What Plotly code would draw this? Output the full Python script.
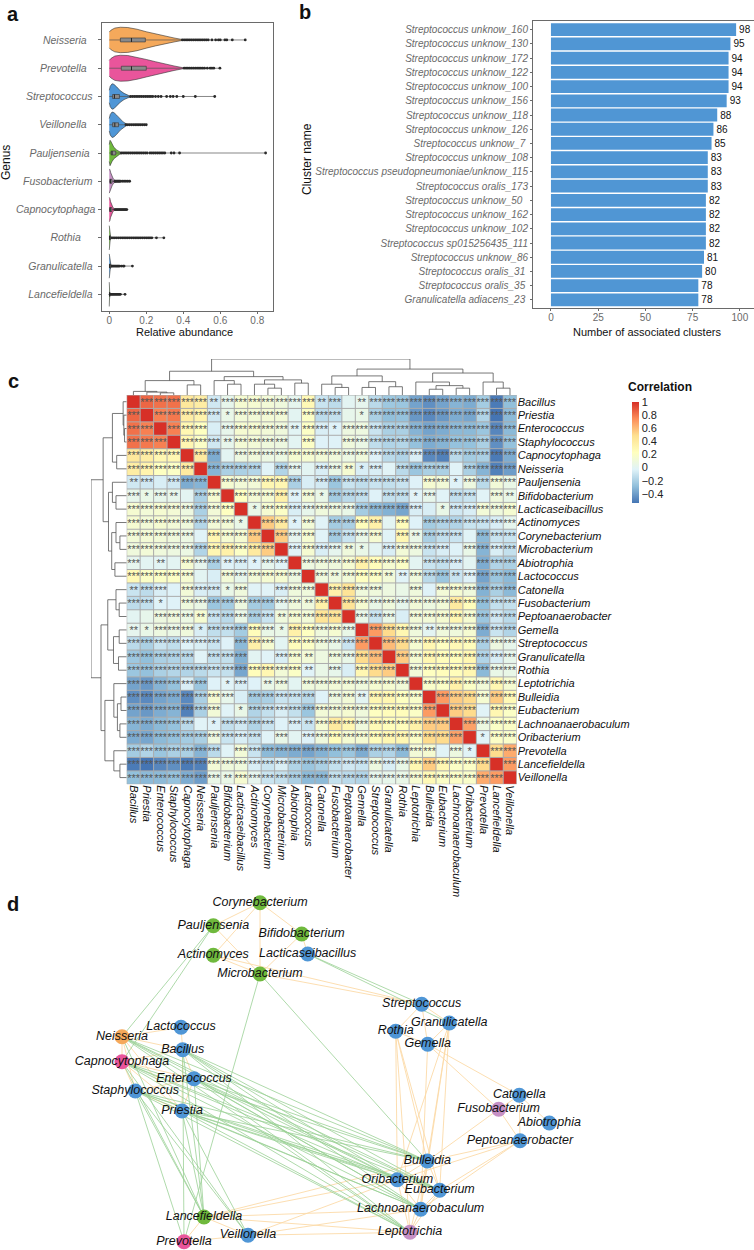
import plotly.graph_objects as go

W, H = 754, 1250
FONT = "Liberation Sans"

# ---------- panel a ----------
genus_a = ["Neisseria", "Prevotella", "Streptococcus", "Veillonella", "Pauljensenia",
           "Fusobacterium", "Capnocytophaga", "Rothia", "Granulicatella", "Lancefieldella"]
pad_a = [3, 3, 1, 3, 2, 1, 0, 5, 1, 1]
col_a = ["#F5A95B", "#E9559B", "#4F96D6", "#4F96D6", "#6FB93D",
         "#C690C5", "#E9559B", "#6FB93D", "#4F96D6", "#6FB93D"]
prof_x = [
    [0, .01, .03, .06, .10, .15, .20, .25, .30, .35, .40],
    [0, .01, .03, .06, .10, .15, .20, .25, .30, .35, .405],
    [0, .005, .015, .025, .04, .06, .08, .10, .12],
    [0, .005, .015, .025, .04, .06, .075, .09, .10],
    [0, .004, .008, .015, .025, .04, .055, .07],
    [0, .003, .008, .015, .022, .03, .04],
    [0, .003, .007, .012, .02, .03],
    [0, .002, .005, .008],
    [0, .002, .005, .010],
    [0, .001, .003, .005],
]
prof_w = [
    [.28, .35, .42, .45, .44, .38, .29, .21, .13, .07, .01],
    [.28, .35, .43, .46, .45, .39, .31, .23, .15, .08, .01],
    [.22, .36, .45, .43, .34, .20, .11, .05, .01],
    [.22, .36, .45, .43, .34, .19, .10, .04, .01],
    [.30, .45, .42, .30, .20, .11, .05, .01],
    [.42, .42, .30, .16, .08, .04, .01],
    [.43, .40, .28, .17, .07, .01],
    [.43, .28, .08, .01],
    [.43, .30, .12, .01],
    [.43, .20, .05, .01],
]
box_q1 = [.060, .065, .018, .018, .010, .003, .002, .001, .001, .001]
box_med = [.120, .120, .028, .030, .015, .006, .005, .002, .003, .002]
box_q3 = [.195, .200, .055, .050, .035, .015, .014, .006, .008, .004]
out_a = [
    [.395, .405, .415, .425, .435, .445, .455, .465, .475, .485, .495, .505, .515, .525, .535, .555, .575, .59, .60, .625, .635, .665, .735],
    [.405, .415, .425, .435, .445, .455, .465, .475, .485, .495, .505, .515, .53, .545, .555, .565, .598],
    [.115, .125, .135, .145, .155, .165, .175, .185, .195, .205, .215, .225, .235, .25, .265, .28, .31, .33, .345, .365, .40, .465, .57],
    [.09, .10, .11, .12, .13, .14, .15, .16, .17, .18, .19, .20],
    [.065, .075, .085, .095, .105, .115, .125, .135, .145, .155, .165, .175, .185, .195, .205, .22, .23, .24, .25, .26, .27, .28, .29, .30, .335, .35, .38, .845],
    [.03, .035, .04, .045, .05, .055, .06, .07, .08, .09, .10, .11],
    [.03, .035, .04, .045, .05, .055, .06, .065, .07, .075, .08, .085, .09, .095],
    [.01, .02, .03, .04, .05, .06, .07, .08, .09, .10, .11, .12, .13, .14, .15, .16, .17, .18, .19, .20, .21, .22, .23, .255, .295],
    [.01, .015, .02, .025, .03, .035, .04, .045, .05, .055, .065, .075, .08, .125],
    [.005, .01, .015, .02, .025, .03, .035, .04, .045, .05, .055, .06, .085],
]
x_ticks_a = [0, .2, .4, .6, .8]
x_labels_a = ["0", "0.2", "0.4", "0.6", "0.8"]

# ---------- panel b ----------
clusters_b = ["Streptococcus unknow_160", "Streptococcus unknow_130", "Streptococcus unknow_172",
              "Streptococcus unknow_122", "Streptococcus unknow_100", "Streptococcus unknow_156",
              "Streptococcus unknow_118", "Streptococcus unknow_126", "Streptococcus unknow_7\u00a0",
              "Streptococcus unknow_108", "Streptococcus pseudopneumoniae/unknow_115",
              "Streptococcus oralis_173", "Streptococcus unknow_50\u00a0\u00a0", "Streptococcus unknow_162",
              "Streptococcus unknow_102", "Streptococcus sp015256435_111", "Streptococcus unknow_86",
              "Streptococcus oralis_31\u00a0", "Streptococcus oralis_35\u00a0", "Granulicatella adiacens_23\u00a0"]
counts_b = [98, 95, 94, 94, 94, 93, 88, 86, 85, 83, 83, 83, 82, 82, 82, 82, 81, 80, 78, 78]

# ---------- panel c ----------
genera = ["Bacillus", "Priestia", "Enterococcus", "Staphylococcus", "Capnocytophaga", "Neisseria",
          "Pauljensenia", "Bifidobacterium", "Lacticaseibacillus", "Actinomyces", "Corynebacterium",
          "Microbacterium", "Abiotrophia", "Lactococcus", "Catonella", "Fusobacterium",
          "Peptoanaerobacter", "Gemella", "Streptococcus", "Granulicatella", "Rothia", "Leptotrichia",
          "Bulleidia", "Eubacterium", "Lachnoanaerobaculum", "Oribacterium", "Prevotella",
          "Lancefieldella", "Veillonella"]
# upper triangle of the correlation matrix, row i holds columns i+1 ... 28
corr_upper = [
    [.85, .82, .82, .42, .38, -.08, .03, .15, .15, .12, .10, .02, .28, -.10, -.14, .00, .02, -.15, -.24, -.25, -.38, -.45, -.38, -.32, -.35, -.22, -.52, -.28],
    [.78, .80, .38, .33, -.08, .05, .12, .12, .13, .12, .00, .20, -.14, -.12, .03, .05, -.20, -.28, -.27, -.42, -.47, -.42, -.35, -.37, -.18, -.54, -.30],
    [.78, .30, .22, -.05, .03, .15, .15, .12, .10, -.01, .20, -.05, -.03, .08, .08, -.10, -.20, -.20, -.32, -.38, -.35, -.30, -.30, -.25, -.48, -.30],
    [.30, .20, -.08, .03, .13, .12, .10, .08, .00, .20, -.03, -.03, .10, .06, -.13, -.18, -.17, -.27, -.35, -.32, -.27, -.27, -.20, -.45, -.27],
    [.40, -.35, .00, .08, .10, .07, .07, .15, .15, .12, .10, .07, .10, -.03, -.15, -.18, -.05, -.47, -.50, -.15, -.22, -.20, -.52, -.35],
    [-.32, -.20, -.20, -.17, -.02, -.18, .02, .00, -.05, .06, .15, -.05, -.05, -.02, -.15, -.25, -.20, -.20, -.02, -.20, -.32, -.50, -.40],
    [.15, .12, .12, .30, .30, -.20, -.05, -.07, -.25, -.10, -.13, -.10, -.12, -.10, -.03, .15, .12, -.03, .08, -.15, .12, .05],
    [.22, .13, .15, .35, -.03, .12, .05, -.22, -.15, -.12, -.03, -.12, -.12, -.02, .03, -.02, -.12, -.10, -.02, .10, .05],
    [.05, .15, .20, -.05, .03, .10, .08, .05, -.22, -.30, -.33, -.37, -.05, -.05, .05, -.08, -.05, .12, .10, .15],
    [.55, .40, -.03, .12, -.02, -.22, -.20, .25, .35, .00, .25, -.03, -.22, -.18, -.18, -.10, -.10, -.05, .02],
    [.55, .02, .15, -.02, -.22, -.10, .05, .15, -.02, .30, .05, -.20, -.12, -.10, -.02, -.30, -.10, -.10],
    [-.02, .15, -.05, .02, .10, .05, .00, -.05, .12, .08, -.10, -.05, -.03, .05, -.32, -.05, -.12],
    [.08, .10, .10, .15, .35, .25, .15, .20, .00, -.10, -.12, -.05, .00, -.35, -.18, -.20],
    [.10, .10, .12, .22, .20, .12, -.02, .10, -.15, -.25, -.10, -.03, -.38, -.25, -.30],
    [.35, .45, .10, .10, .08, .05, .10, -.03, .12, .15, .10, -.33, -.20, -.30],
    [.45, .15, .05, .10, .03, .12, .08, .12, .40, .25, -.28, -.12, -.12],
    [.05, -.10, .05, -.05, .12, .12, .15, .30, .15, -.25, -.08, -.15],
    [.70, .50, .30, .10, .00, .10, .10, .15, -.35, -.10, -.18],
    [.60, .50, .15, .30, .22, .28, .25, -.20, .08, .03],
    [.55, .15, .30, .25, .25, .30, -.18, -.05, .03],
    [.12, .22, .25, .25, .30, -.30, .05, .05],
    [.18, .20, .35, .20, .12, .30, .15],
    [.70, .55, .50, .15, .55, .28],
    [.55, .50, -.02, .30, .20],
    [.68, .08, .20, .20],
    [-.02, .20, .18],
    [.50, .65],
    [.70],
]
# number of stars per cell differing from the usual three
star_exceptions = {
    (0, 6): 2, (0, 14): 2, (0, 16): 0, (0, 17): 2, (1, 7): 1, (1, 12): 0, (1, 16): 0, (1, 17): 1,
    (2, 6): 0, (2, 12): 2, (2, 15): 1, (3, 7): 2, (3, 12): 0, (3, 14): 0, (3, 15): 0, (4, 7): 0,
    (5, 10): 0, (5, 13): 0, (5, 16): 2, (5, 17): 1, (5, 19): 0, (5, 24): 0, (6, 13): 0, (6, 21): 0,
    (6, 24): 1, (7, 12): 2, (7, 14): 1, (7, 18): 0, (7, 21): 1, (7, 23): 0, (7, 26): 0, (7, 28): 2,
    (8, 9): 1, (8, 22): 0, (8, 23): 1, (9, 12): 1, (9, 14): 0, (9, 19): 0, (9, 21): 0, (10, 14): 0,
    (10, 19): 0, (10, 21): 2, (10, 25): 0, (11, 16): 2, (11, 17): 1, (11, 18): 0, (11, 24): 0,
    (12, 21): 0, (12, 25): 0, (13, 15): 2, (13, 19): 2, (13, 20): 2, (13, 24): 2, (14, 19): 0,
    (14, 20): 0, (14, 22): 0, (16, 20): 0, (17, 22): 2, (23, 26): 0, (25, 26): 1,
}
# clustering tree shared by rows and columns: (merge height, left, right), leaves are indices
tree = (1.0,
        (.66,
         (.40, (.10, 0, (.08, 1, (.06, 2, 3))), (.28, 4, 5)),
         (.51, (.40, 6, (.30, 7, 8)),
          (.42, (.30, 9, (.19, 10, 11)), (.33, 12, 13)))),
        (.72,
         (.53, (.30, 14, (.21, 15, 16)), (.37, (.21, 17, 18), (.23, 19, 20))),
         (.61, (.36, 21, (.26, (.16, 22, 23), (.19, 24, 25))), (.36, 26, (.19, 27, 28)))))
cb_ticks = [1, .8, .6, .4, .2, 0, -.2, -.4]
corr_colors = ["#4575B4", "#91BFDB", "#E0F3F8", "#FFFFBF", "#FEE090", "#FC8D59", "#D73027"]

# ---------- panel d ----------
node_names = ["Corynebacterium", "Pauljensenia", "Bifidobacterium", "Lacticaseibacillus", "Actinomyces",
              "Microbacterium", "Lactococcus", "Neisseria", "Bacillus", "Capnocytophaga", "Enterococcus",
              "Staphylococcus", "Priestia", "Lancefieldella", "Prevotella", "Veillonella", "Streptococcus",
              "Granulicatella", "Rothia", "Gemella", "Catonella", "Fusobacterium", "Abiotrophia",
              "Peptoanaerobacter", "Bulleidia", "Oribacterium", "Eubacterium", "Lachnoanaerobaculum",
              "Leptotrichia"]
node_x = [260, 213.3, 301.7, 307.7, 213.3, 260, 181, 122, 182.7, 122, 194, 135.3, 182, 204, 184, 248,
          421.7, 449.3, 395.7, 427.7, 519.3, 498.7, 549.3, 520, 427.3, 397.3, 439.7, 420.7, 410]
node_y = [902.7, 925.7, 934, 954, 955.3, 974, 1027.3, 1036.7, 1049.7, 1061.7, 1078.7, 1091, 1111, 1217,
          1241.7, 1235.3, 1004.3, 1023, 1031.3, 1044.3, 1095.3, 1109.3, 1123, 1140.7, 1161, 1179.7, 1190.3,
          1209.3, 1232.3]
node_col = ["#6FB93D", "#6FB93D", "#6FB93D", "#4F96D6", "#6FB93D", "#6FB93D", "#4F96D6", "#F5A95B", "#4F96D6",
            "#E9559B", "#4F96D6", "#4F96D6", "#4F96D6", "#6FB93D", "#E9559B", "#4F96D6", "#4F96D6", "#4F96D6",
            "#4F96D6", "#4F96D6", "#4F96D6", "#C690C5", "#4F96D6", "#4F96D6", "#4F96D6", "#4F96D6", "#4F96D6",
            "#4F96D6", "#C690C5"]
pos_edges = [
    ("Corynebacterium", "Pauljensenia"), ("Corynebacterium", "Bifidobacterium"), ("Corynebacterium", "Microbacterium"),
    ("Pauljensenia", "Microbacterium"), ("Bifidobacterium", "Microbacterium"), ("Bifidobacterium", "Lacticaseibacillus"),
    ("Actinomyces", "Microbacterium"), ("Actinomyces", "Corynebacterium"), ("Microbacterium", "Streptococcus"),
    ("Actinomyces", "Streptococcus"), ("Neisseria", "Capnocytophaga"), ("Neisseria", "Bacillus"), ("Neisseria", "Lactococcus"),
    ("Neisseria", "Staphylococcus"), ("Neisseria", "Priestia"), ("Capnocytophaga", "Staphylococcus"),
    ("Capnocytophaga", "Bacillus"), ("Capnocytophaga", "Enterococcus"), ("Capnocytophaga", "Priestia"),
    ("Lactococcus", "Bacillus"), ("Bacillus", "Enterococcus"), ("Bacillus", "Priestia"), ("Enterococcus", "Priestia"),
    ("Staphylococcus", "Priestia"), ("Staphylococcus", "Enterococcus"), ("Streptococcus", "Rothia"),
    ("Streptococcus", "Gemella"), ("Streptococcus", "Granulicatella"), ("Rothia", "Gemella"), ("Granulicatella", "Gemella"),
    ("Rothia", "Oribacterium"), ("Rothia", "Bulleidia"), ("Rothia", "Eubacterium"), ("Rothia", "Leptotrichia"),
    ("Gemella", "Fusobacterium"), ("Gemella", "Catonella"), ("Granulicatella", "Bulleidia"), ("Granulicatella", "Eubacterium"),
    ("Granulicatella", "Lachnoanaerobaculum"), ("Granulicatella", "Oribacterium"), ("Gemella", "Lachnoanaerobaculum"),
    ("Catonella", "Fusobacterium"), ("Catonella", "Abiotrophia"), ("Catonella", "Peptoanaerobacter"),
    ("Fusobacterium", "Peptoanaerobacter"), ("Fusobacterium", "Bulleidia"), ("Peptoanaerobacter", "Bulleidia"),
    ("Peptoanaerobacter", "Eubacterium"), ("Peptoanaerobacter", "Lachnoanaerobaculum"), ("Peptoanaerobacter", "Oribacterium"),
    ("Bulleidia", "Oribacterium"), ("Bulleidia", "Eubacterium"), ("Bulleidia", "Lachnoanaerobaculum"), ("Bulleidia", "Leptotrichia"),
    ("Oribacterium", "Eubacterium"), ("Oribacterium", "Lachnoanaerobaculum"), ("Oribacterium", "Leptotrichia"),
    ("Eubacterium", "Lachnoanaerobaculum"), ("Eubacterium", "Leptotrichia"), ("Lachnoanaerobaculum", "Leptotrichia"),
    ("Oribacterium", "Lancefieldella"), ("Bulleidia", "Lancefieldella"), ("Lachnoanaerobaculum", "Lancefieldella"),
    ("Lachnoanaerobaculum", "Veillonella"), ("Leptotrichia", "Lancefieldella"), ("Leptotrichia", "Veillonella"),
    ("Lancefieldella", "Prevotella"), ("Lancefieldella", "Veillonella"), ("Prevotella", "Veillonella"), ("Oribacterium", "Veillonella"),
]
neg_edges = [
    ("Pauljensenia", "Neisseria"), ("Pauljensenia", "Capnocytophaga"), ("Microbacterium", "Prevotella"), ("Microbacterium", "Bulleidia"),
    ("Lacticaseibacillus", "Streptococcus"), ("Lacticaseibacillus", "Granulicatella"),
] + [(a, b) for a in ["Bacillus", "Enterococcus", "Priestia", "Staphylococcus", "Capnocytophaga", "Neisseria"]
     for b in ["Bulleidia", "Oribacterium", "Eubacterium", "Lachnoanaerobaculum", "Leptotrichia"]] + [
    ("Bacillus", "Lancefieldella"), ("Bacillus", "Prevotella"), ("Enterococcus", "Lancefieldella"), ("Priestia", "Lancefieldella"),
    ("Priestia", "Veillonella"), ("Staphylococcus", "Lancefieldella"), ("Staphylococcus", "Prevotella"), ("Staphylococcus", "Veillonella"),
    ("Neisseria", "Lancefieldella"), ("Capnocytophaga", "Lancefieldella"), ("Capnocytophaga", "Veillonella"),
]

# ---------- helpers ----------
def dx(a, b):
    return [a / W, b / W]

def dy(top, bottom):
    return [1 - bottom / H, 1 - top / H]

fig = go.Figure()
GRAY = "#6a6a6a"

# panel d first (underneath)
idx = {n: i for i, n in enumerate(node_names)}
def edge_xy(edges):
    xs, ys = [], []
    for a, b in edges:
        xs += [node_x[idx[a]], node_x[idx[b]], None]
        ys += [node_y[idx[a]], node_y[idx[b]], None]
    return xs, ys
px, py = edge_xy(pos_edges)
nx_, ny_ = edge_xy(neg_edges)
fig.add_trace(go.Scatter(x=px, y=py, mode="lines", line=dict(color="#FCDAA8", width=0.9), xaxis="x6", yaxis="y6", hoverinfo="skip"))
fig.add_trace(go.Scatter(x=nx_, y=ny_, mode="lines", line=dict(color="#9AD196", width=0.8), xaxis="x6", yaxis="y6", hoverinfo="skip"))
fig.add_trace(go.Scatter(x=node_x, y=node_y, mode="markers+text", text=node_names, textposition="middle center",
                         textfont=dict(family=FONT, size=12.5, style="italic", color="#111"),
                         marker=dict(size=15, color=node_col, line=dict(width=0)), xaxis="x6", yaxis="y6", cliponaxis=False))

# panel a
for i, g in enumerate(genus_a):
    xs = prof_x[i] + prof_x[i][::-1]
    ys = [i - w for w in prof_w[i]] + [i + w for w in prof_w[i][::-1]]
    fig.add_trace(go.Scatter(x=xs, y=ys, mode="lines", fill="toself", fillcolor=col_a[i],
                             line=dict(color="#333", width=0.6), xaxis="x", yaxis="y", hoverinfo="skip"))
    fig.add_trace(go.Scatter(x=[0, max(out_a[i])], y=[i, i], mode="lines", line=dict(color="#555", width=0.7),
                             xaxis="x", yaxis="y", hoverinfo="skip"))
    fig.add_trace(go.Scatter(x=out_a[i], y=[i] * len(out_a[i]), mode="markers", marker=dict(size=2.8, color="#2a2a2a"),
                             xaxis="x", yaxis="y", hoverinfo="skip"))
    fig.add_trace(go.Scatter(x=[box_q1[i], box_q3[i], box_q3[i], box_q1[i], box_q1[i]],
                             y=[i - .07, i - .07, i + .07, i + .07, i - .07], mode="lines", fill="toself",
                             fillcolor="#8a8a8a", line=dict(color="#333", width=0.6), xaxis="x", yaxis="y", hoverinfo="skip"))
    fig.add_trace(go.Scatter(x=[box_med[i]] * 2, y=[i - .07, i + .07], mode="lines", line=dict(color="#222", width=1),
                             xaxis="x", yaxis="y", hoverinfo="skip"))

# panel b
fig.add_trace(go.Bar(x=counts_b, y=list(range(len(counts_b))), orientation="h", marker=dict(color="#5096D4", line=dict(width=0)),
                     width=0.9, text=counts_b, textposition="outside", textangle=0, cliponaxis=False,
                     textfont=dict(family=FONT, size=10, color="#111"), xaxis="x2", yaxis="y2", hoverinfo="skip"))

# panel c
n = len(genera)
z = [[1.0] * n for _ in range(n)]
stars = [[""] * n for _ in range(n)]
for i in range(n - 1):
    assert len(corr_upper[i]) == n - 1 - i, i
    for k, v in enumerate(corr_upper[i]):
        j = i + 1 + k
        z[i][j] = z[j][i] = v
        stars[i][j] = stars[j][i] = "*" * star_exceptions.get((i, j), 3)
scale = [[k / (len(corr_colors) - 1), c] for k, c in enumerate(corr_colors)]
fig.add_trace(go.Heatmap(z=z, x=list(range(n)), y=list(range(n)), text=stars, texttemplate="%{text}",
                         textfont=dict(family=FONT, size=11, color="#555"),
                         colorscale=scale, zmin=-.54, zmax=1, xaxis="x3", yaxis="y3", hoverinfo="skip",
                         colorbar=dict(x=632.3 / W, xanchor="left", y=1 - 402 / H, yanchor="top", lenmode="pixels", len=101,
                                       thickness=7, thicknessmode="pixels", outlinewidth=0, xpad=0, ypad=0, ticks="",
                                       tickvals=cb_ticks, ticktext=["1", "0.8", "0.6", "0.4", "0.2", "0", "\u22120.2", "\u22120.4"],
                                       tickfont=dict(family=FONT, size=11, color="#222"))))
# cell borders
gx, gy = [], []
for k in range(n + 1):
    gx += [k - .5, k - .5, None, -.5, n - .5, None]
    gy += [-.5, n - .5, None, k - .5, k - .5, None]
fig.add_trace(go.Scatter(x=gx, y=gy, mode="lines", line=dict(color="#ababab", width=1), xaxis="x3", yaxis="y3",
                         hoverinfo="skip", cliponaxis=False))

# dendrograms from the merge tree
seg_a, seg_h = [], []
def walk(node):
    if isinstance(node, int):
        return float(node), 0.0
    h, l, r = node
    lp, lh = walk(l)
    rp, rh = walk(r)
    seg_a.extend([lp, lp, rp, rp, None])
    seg_h.extend([lh, h, h, rh, None])
    return (lp + rp) / 2, h
walk(tree)
fig.add_trace(go.Scatter(x=seg_a, y=seg_h, mode="lines", line=dict(color="#555", width=0.8), xaxis="x4", yaxis="y4", hoverinfo="skip"))
fig.add_trace(go.Scatter(x=seg_h, y=seg_a, mode="lines", line=dict(color="#555", width=0.8), xaxis="x5", yaxis="y5", hoverinfo="skip"))

axis_line = dict(showline=True, linecolor=GRAY, linewidth=1, mirror=True, showgrid=False, zeroline=False)
tick_font = dict(family=FONT, size=10, color=GRAY)
ital_font = dict(family=FONT, size=10.5, color=GRAY, style="italic")
hidden = dict(visible=False, showgrid=False, zeroline=False)

ann = []
def label(x, y, text, size=11, color="#111", bold=False, angle=0, xanchor="center"):
    ann.append(dict(x=x / W, y=1 - y / H, xref="paper", yref="paper", text=f"<b>{text}</b>" if bold else text, showarrow=False,
                    font=dict(family=FONT, size=size, color=color), textangle=angle, xanchor=xanchor, yanchor="middle"))
label(13, 14, "a", size=20, bold=True)
label(305, 12, "b", size=20, bold=True)
label(13, 381, "c", size=20, bold=True)
label(13, 904, "d", size=20, bold=True)
label(6, 163, "Genus", size=12, angle=-90)
label(184, 331.5, "Relative abundance", size=11)
label(307, 159, "Cluster name", size=12, angle=-90)
label(647, 331.5, "Number of associated clusters", size=11)
label(626, 387, "Correlation", size=12, bold=True, xanchor="left")

fig.update_layout(
    width=W, height=H, autosize=False, margin=dict(l=0, r=0, t=0, b=0, pad=0), showlegend=False,
    paper_bgcolor="white", plot_bgcolor="rgba(0,0,0,0)", font=dict(family=FONT), annotations=ann,
    xaxis=dict(domain=dx(101.5, 273), range=[-.042, .885], tickvals=x_ticks_a, ticktext=x_labels_a, tickfont=tick_font,
               ticks="outside", ticklen=2, tickcolor=GRAY, ticklabelstandoff=-2, anchor="y", **axis_line),
    yaxis=dict(domain=dy(23, 311), range=[9.59, -.6], tickvals=list(range(10)),
               ticktext=[g + "\u00a0" * p for g, p in zip(genus_a, pad_a)], tickfont=ital_font,
               ticks="outside", ticklen=3, tickcolor=GRAY, anchor="x", **axis_line),
    xaxis2=dict(domain=dx(533, 753.5), range=[-9.5, 107.2], tickvals=[0, 25, 50, 75, 100], tickfont=tick_font,
                ticks="outside", ticklen=2, tickcolor=GRAY, ticklabelstandoff=-2, anchor="y2", **axis_line),
    yaxis2=dict(domain=dy(21.3, 308), range=[19.57, -.59], tickvals=list(range(20)), ticktext=clusters_b,
                tickfont=dict(family=FONT, size=10, color=GRAY, style="italic"), ticks="outside", ticklen=2, tickcolor=GRAY,
                anchor="x2", **axis_line),
    xaxis3=dict(domain=dx(126.7, 516.7), range=[-.5, 28.5], tickvals=list(range(n)), ticktext=genera, tickangle=90,
                tickfont=dict(family=FONT, size=11, color="#111", style="italic"), ticks="", showgrid=False, zeroline=False, anchor="y3"),
    yaxis3=dict(domain=dy(395, 784.3), range=[28.5, -.5], tickvals=list(range(n)), ticktext=genera, side="right",
                tickfont=dict(family=FONT, size=11, color="#111", style="italic"), ticks="", showgrid=False, zeroline=False, anchor="x3"),
    xaxis4=dict(domain=dx(126.7, 516.7), range=[-.5, 28.5], anchor="y4", **hidden),
    yaxis4=dict(domain=dy(359, 395), range=[0, 1], anchor="x4", **hidden),
    xaxis5=dict(domain=dx(91, 126.7), range=[1, 0], anchor="y5", **hidden),
    yaxis5=dict(domain=dy(395, 784.3), range=[28.5, -.5], anchor="x5", **hidden),
    xaxis6=dict(domain=[0, 1], range=[0, W], anchor="y6", **hidden),
    yaxis6=dict(domain=dy(880, 1250), range=[1250, 880], anchor="x6", **hidden),
)
fig.write_html("out.html", post_script="document.body.style.margin='0';", config={"displayModeBar": False})
